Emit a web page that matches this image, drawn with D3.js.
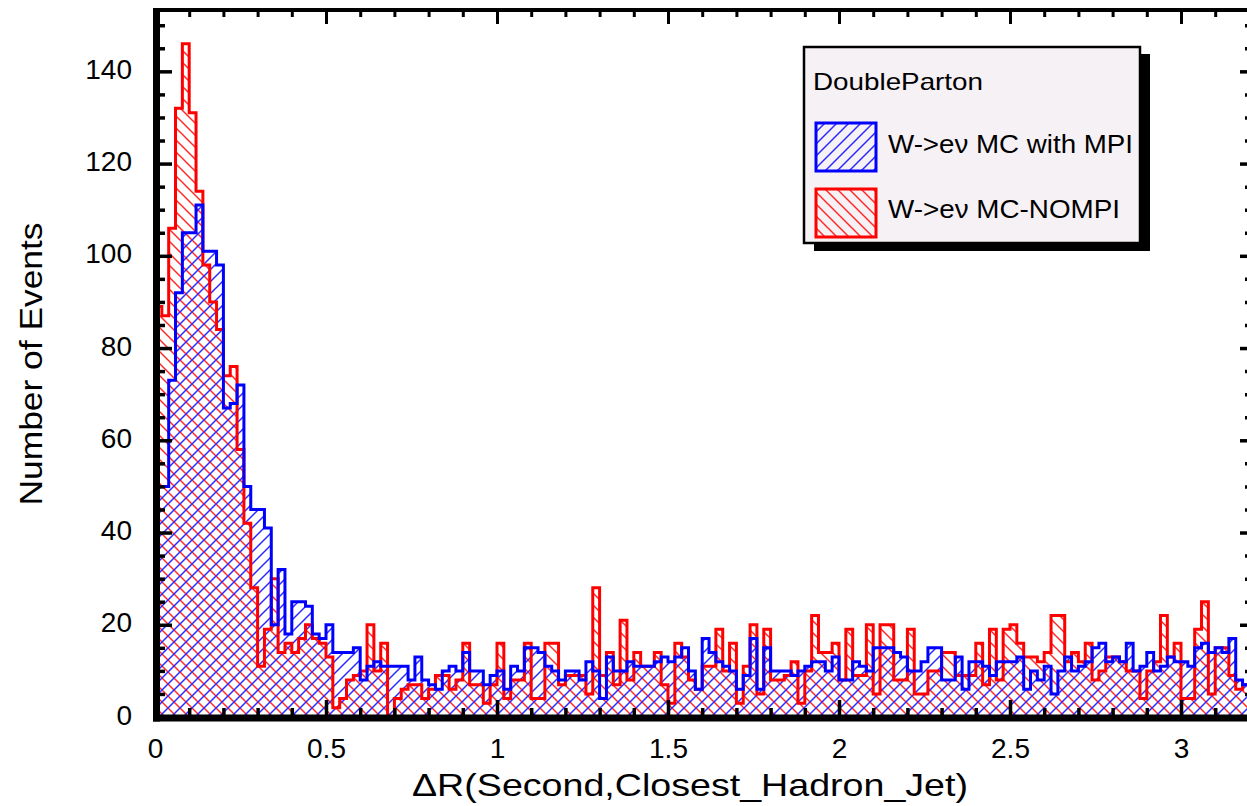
<!DOCTYPE html>
<html>
<head>
<meta charset="utf-8">
<script src="https://cdn.jsdelivr.net/npm/d3@7"></script>
<style>
  html, body { margin: 0; padding: 0; background: #ffffff; }
  svg { display: block; font-family: "Liberation Sans", Arial, Helvetica, sans-serif; }
</style>
</head>
<body>
<svg id="chart" width="1247" height="806"></svg>
<script>
// Histogram binning: 160 bins of width 0.02 over [0, 3.2]
const xMin = 0, xMax = 3.2, binWidth = 0.02;
const yMax = 153.3;

// Bin contents, W->enu MC with multiple parton interactions
const mpiCounts = [
  50, 50, 73, 92, 105, 105, 111, 101, 101, 98,
  67, 68, 72, 50, 45, 45, 41, 20, 32, 18,
  25, 25, 24, 18, 17, 20, 14, 14, 14, 15,
  8, 11, 12, 11, 11, 11, 11, 8, 13, 8,
  7, 6, 10, 11, 10, 14, 10, 10, 7, 9,
  10, 6, 11, 10, 15, 15, 14, 11, 10, 8,
  10, 10, 8, 12, 10, 4, 13, 10, 10, 12,
  11, 11, 11, 12, 13, 12, 13, 15, 10, 6,
  17, 14, 12, 11, 10, 6, 9, 17, 6, 15,
  10, 10, 10, 9, 10, 11, 12, 12, 10, 13,
  8, 8, 12, 11, 10, 15, 15, 15, 14, 13,
  10, 10, 12, 15, 15, 8, 8, 13, 6, 12,
  12, 11, 9, 12, 12, 12, 13, 6, 10, 8,
  11, 5, 10, 13, 10, 11, 12, 15, 16, 12,
  13, 12, 16, 10, 11, 14, 10, 11, 13, 12,
  12, 11, 15, 16, 14, 15, 14, 17, 8, 7
];

// Bin contents, W->enu MC without MPI
const nompiCounts = [
  89, 87, 106, 132, 146, 131, 114, 98, 90, 84,
  74, 76, 58, 42, 28, 11, 19, 30, 14, 16,
  14, 17, 20, 17, 16, 13, 2, 4, 8, 9,
  10, 20, 10, 16, 0, 4, 6, 7, 7, 4,
  6, 9, 9, 6, 8, 16, 7, 7, 3, 7,
  16, 4, 8, 8, 16, 4, 4, 16, 16, 7,
  9, 9, 9, 5, 28, 9, 14, 7, 21, 8,
  14, 11, 11, 14, 7, 3, 16, 13, 8, 6,
  11, 11, 19, 10, 16, 3, 11, 20, 5, 19,
  8, 8, 9, 12, 3, 10, 22, 14, 14, 16,
  8, 19, 9, 9, 20, 5, 20, 20, 8, 8,
  19, 5, 5, 10, 10, 14, 14, 9, 9, 9,
  16, 7, 19, 8, 19, 20, 16, 13, 13, 12,
  14, 22, 22, 12, 14, 12, 16, 8, 10, 13,
  13, 12, 10, 10, 4, 10, 12, 22, 13, 16,
  4, 4, 19, 25, 5, 15, 15, 9, 6, 7
];

const xTickValues = [0, 0.5, 1, 1.5, 2, 2.5, 3];
const xTickLabels = ["0", "0.5", "1", "1.5", "2", "2.5", "3"];
const yTickValues = [0, 20, 40, 60, 80, 100, 120, 140];
const yTickLabels = ["0", "20", "40", "60", "80", "100", "120", "140"];

const legendHeader = "DoubleParton";
const seriesNames = ["W->e\u03bd MC with MPI", "W->e\u03bd MC-NOMPI"];
const xTitle = "\u0394R(Second,Closest_Hadron_Jet)";
const yTitle = "Number of Events";

const BLUE = "#0000ff", RED = "#ff0000";
const HATCH_BLUE = "#2a2aff", HATCH_RED = "#ff2a2a";

const svg = d3.select("#chart");
const frame = { left: 155, right: 1250, top: 10, bottom: 717 };

const x = d3.scaleLinear().domain([xMin, xMax]).range([frame.left, frame.left + 342 * xMax]);
const y = d3.scaleLinear().domain([0, yMax]).range([frame.bottom, frame.top]);

// Hatch patterns: blue "/" and red "\" lines
const defs = svg.append("defs");
function hatch(id, color, rising) {
  const s = 12;
  const p = defs.append("pattern")
    .attr("id", id).attr("patternUnits", "userSpaceOnUse")
    .attr("width", s).attr("height", s);
  const d = rising
    ? `M0,${s} L${s},0 M${-s/4},${s/4} L${s/4},${-s/4} M${s*3/4},${s*5/4} L${s*5/4},${s*3/4}`
    : `M0,0 L${s},${s} M${-s/4},${s*3/4} L${s/4},${s*5/4} M${s*3/4},${-s/4} L${s*5/4},${s/4}`;
  p.append("path").attr("d", d).attr("stroke", color).attr("stroke-width", 1.5)
    .attr("fill", "none");
}
hatch("hatchBlue", HATCH_BLUE, true);
hatch("hatchRed", HATCH_RED, false);

defs.append("clipPath").attr("id", "plotClip")
  .append("rect")
  .attr("x", frame.left).attr("y", frame.top)
  .attr("width", frame.right - frame.left).attr("height", frame.bottom - frame.top);

// Step outline of a histogram, closed down to the baseline at both ends
function stepPoints(counts) {
  const pts = [[xMin, 0]];
  counts.forEach((c, i) => {
    const lo = xMin + i * binWidth, hi = lo + binWidth;
    pts.push([lo, c], [hi, c]);
  });
  pts.push([xMin + counts.length * binWidth, 0]);
  return pts;
}
const line = d3.line().x(d => x(d[0])).y(d => y(d[1]));

const plot = svg.append("g").attr("clip-path", "url(#plotClip)");
const redPts = stepPoints(nompiCounts), bluePts = stepPoints(mpiCounts);

plot.append("path").attr("d", line(redPts) + "Z").attr("fill", "url(#hatchRed)").attr("stroke", "none");
plot.append("path").attr("d", line(bluePts) + "Z").attr("fill", "url(#hatchBlue)").attr("stroke", "none");
plot.append("path").attr("d", line(redPts)).attr("fill", "none")
  .attr("stroke", RED).attr("stroke-width", 3).attr("stroke-linejoin", "miter");
plot.append("path").attr("d", line(bluePts)).attr("fill", "none")
  .attr("stroke", BLUE).attr("stroke-width", 3).attr("stroke-linejoin", "miter");

// Frame
svg.append("rect")
  .attr("x", frame.left).attr("y", frame.top)
  .attr("width", frame.right - frame.left).attr("height", frame.bottom - frame.top)
  .attr("fill", "none").attr("stroke", "#000").attr("stroke-width", 4);
svg.append("line").attr("x1", 156.5).attr("x2", 156.5).attr("y1", frame.top - 2).attr("y2", 721.5)
  .attr("stroke", "#000").attr("stroke-width", 7);
svg.append("line").attr("x1", 153).attr("x2", frame.right).attr("y1", 718).attr("y2", 718)
  .attr("stroke", "#000").attr("stroke-width", 7);

const xMinor = d3.range(0, 32 + 1).map(i => i / 10).filter(v => Math.round(v * 10) % 5 !== 0);
const yMinor = d3.range(0, 151, 5).filter(v => v % 20 !== 0);

function styleTicks(g, width) {
  g.select(".domain").remove();
  g.selectAll(".tick line").attr("stroke", "#000").attr("stroke-width", width);
}

// Bottom axis with labels
const gx = svg.append("g").attr("transform", `translate(0,${frame.bottom})`)
  .call(d3.axisBottom(x).tickValues(xTickValues).tickSize(-17).tickPadding(21)
    .tickFormat((d, i) => xTickLabels[i]));
styleTicks(gx, 3.5);
gx.selectAll(".tick text").attr("font-size", 28).attr("fill", "#000")
  .attr("font-family", "'Liberation Sans', Arial, sans-serif");
const gxm = svg.append("g").attr("transform", `translate(0,${frame.bottom})`)
  .call(d3.axisBottom(x).tickValues(xMinor).tickSize(-9).tickFormat(""));
styleTicks(gxm, 3.5);

// Top axis ticks
const gt = svg.append("g").attr("transform", `translate(0,${frame.top})`)
  .call(d3.axisTop(x).tickValues(xTickValues).tickSize(-14).tickFormat(""));
styleTicks(gt, 3);
const gtm = svg.append("g").attr("transform", `translate(0,${frame.top})`)
  .call(d3.axisTop(x).tickValues(xMinor).tickSize(-7).tickFormat(""));
styleTicks(gtm, 3);

// Left axis with labels
const gy = svg.append("g").attr("transform", `translate(${frame.left},0)`)
  .call(d3.axisLeft(y).tickValues(yTickValues).tickSize(-17).tickPadding(23)
    .tickFormat((d, i) => yTickLabels[i]));
styleTicks(gy, 3.5);
gy.selectAll(".tick text").attr("font-size", 28).attr("fill", "#000").attr("dy", "0.25em")
  .attr("font-family", "'Liberation Sans', Arial, sans-serif");
gy.selectAll(".tick").filter(d => d === 0).select("line").remove();
const gym = svg.append("g").attr("transform", `translate(${frame.left},0)`)
  .call(d3.axisLeft(y).tickValues(yMinor).tickSize(-10).tickFormat(""));
styleTicks(gym, 3.5);

// Right axis ticks
const gr = svg.append("g").attr("transform", `translate(${frame.right},0)`)
  .call(d3.axisRight(y).tickValues(yTickValues.filter(v => v > 0)).tickSize(-10).tickFormat(""));
styleTicks(gr, 3.5);
const grm = svg.append("g").attr("transform", `translate(${frame.right},0)`)
  .call(d3.axisRight(y).tickValues(yMinor).tickSize(-5).tickFormat(""));
styleTicks(grm, 3.5);

// Axis titles
svg.append("text")
  .attr("x", 412).attr("y", 796)
  .attr("font-size", 32).attr("fill", "#000")
  .attr("textLength", 556).attr("lengthAdjust", "spacingAndGlyphs")
  .text(xTitle);
svg.append("text")
  .attr("transform", "translate(42,364) rotate(-90)")
  .attr("text-anchor", "middle")
  .attr("font-size", 32).attr("fill", "#000")
  .attr("textLength", 283).attr("lengthAdjust", "spacingAndGlyphs")
  .text(yTitle);

// Legend
const lg = svg.append("g");
lg.append("rect").attr("x", 814).attr("y", 54).attr("width", 336).attr("height", 197).attr("fill", "#000");
lg.append("rect").attr("x", 804).attr("y", 47).attr("width", 336).attr("height", 196)
  .attr("fill", "#f6f1f5").attr("stroke", "#000").attr("stroke-width", 2.5);
lg.append("text").attr("x", 813).attr("y", 90).attr("font-size", 24).attr("fill", "#000")
  .attr("textLength", 170).attr("lengthAdjust", "spacingAndGlyphs").text(legendHeader);

const entries = [
  { name: seriesNames[0], color: BLUE, fill: "url(#hatchBlue)", top: 123, base: 153, len: 245 },
  { name: seriesNames[1], color: RED, fill: "url(#hatchRed)", top: 189, base: 218, len: 232 }
];
entries.forEach(e => {
  lg.append("rect").attr("x", 816).attr("y", e.top).attr("width", 60).attr("height", 48)
    .attr("fill", e.fill).attr("stroke", e.color).attr("stroke-width", 3);
  lg.append("text").attr("x", 888).attr("y", e.base).attr("font-size", 25).attr("fill", "#000")
    .attr("textLength", e.len).attr("lengthAdjust", "spacingAndGlyphs").text(e.name);
});
</script>
</body>
</html>
